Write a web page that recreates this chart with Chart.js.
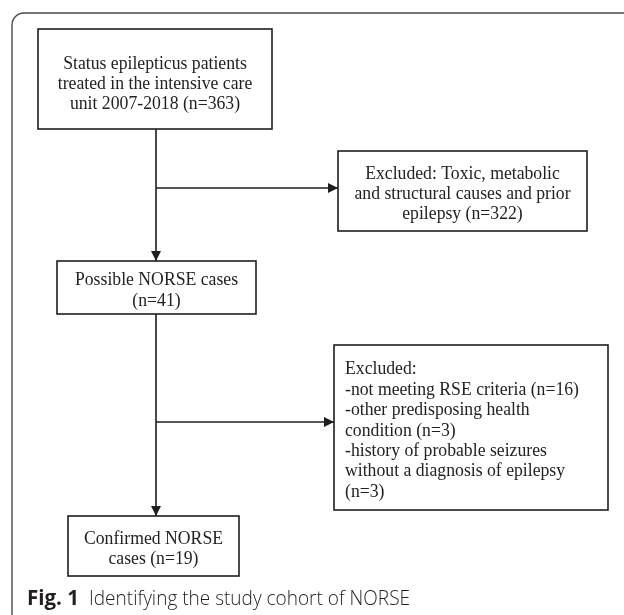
<!DOCTYPE html>
<html>
<head>
<meta charset="utf-8">
<script src="https://cdn.jsdelivr.net/npm/chart.js@4.4.1/dist/chart.umd.min.js"></script>
<style>
  html, body { margin: 0; padding: 0; background: #fff; }
  #wrap { width: 624px; height: 615px; }
</style>
</head>
<body>
<div id="wrap"><canvas id="flow" width="624" height="615"></canvas></div>
<script>
/* ── Flow data ── */
const STEP_TEXT = [
  ['Status epilepticus patients', 'treated in the intensive care', 'unit 2007-2018 (n=363)'],
  ['Possible NORSE cases', '(n=41)'],
  ['Confirmed NORSE', 'cases (n=19)'],
];
const EXCL_TEXT = [
  ['Excluded: Toxic, metabolic', 'and structural causes and prior', 'epilepsy (n=322)'],
  ['Excluded:', '-not meeting RSE criteria (n=16)', '-other predisposing health',
   'condition (n=3)', '-history of probable seizures', 'without a diagnosis of epilepsy', '(n=3)'],
];
const CAPTION_BOLD = 'Fig. 1';
const CAPTION_TEXT = 'Identifying the study cohort of NORSE';

/* ── Layout (chart units = page px) ── */
const STEP_BOX = [   // [x0, y0, x1, y1]
  [38, 29, 272, 129],
  [57, 261, 256, 314],
  [68, 516, 239, 576],
];
const EXCL_BOX = [
  [338, 151, 587, 231],
  [334, 345, 608, 510],
];
const SPINE_X   = 156;
const BRANCH_Y  = [188, 422];
const LINE_GAP  = 20.4;
const TEXT_DROP = 3;
const INK       = '#1e1e1e';
const SERIF     = '"Liberation Serif", "Times New Roman", serif';

/* ── Connector datasets ── */
function seg(x0, y0, x1, y1) {
  return {
    type: 'line',
    data: [{ x: x0, y: y0 }, { x: x1, y: y1 }],
    borderColor: INK,
    borderWidth: 1.6,
    pointRadius: 0,
    fill: false,
    arrow: true,
  };
}

const connectors = [];
for (let i = 0; i < STEP_BOX.length - 1; i++) {
  connectors.push(seg(SPINE_X, STEP_BOX[i][3], SPINE_X, STEP_BOX[i + 1][1]));
  connectors.push(seg(SPINE_X, BRANCH_Y[i], EXCL_BOX[i][0], BRANCH_Y[i]));
}

/* ── Plugin: boxes, text, arrowheads, frame, caption ── */
const flowPlugin = {
  id: 'flow',
  afterDatasetsDraw(chart) {
    const { ctx, scales: { x, y } } = chart;
    const px = v => x.getPixelForValue(v);
    const py = v => y.getPixelForValue(v);

    ctx.save();

    // outer frame (open at right/bottom)
    const fx = 12, fy = 13, r = 12;
    ctx.strokeStyle = '#4a4a4a';
    ctx.lineWidth = 1.4;
    ctx.beginPath();
    ctx.moveTo(fx, 615);
    ctx.lineTo(fx, fy + r);
    ctx.arcTo(fx, fy, fx + r, fy, r);
    ctx.lineTo(624, fy);
    ctx.stroke();

    // arrowheads
    chart.data.datasets.forEach((ds, i) => {
      if (!ds.arrow) return;
      const pts = chart.getDatasetMeta(i).data;
      const a = pts[0], b = pts[pts.length - 1];
      const ang = Math.atan2(b.y - a.y, b.x - a.x);
      const len = 10, half = 5;
      ctx.fillStyle = INK;
      ctx.beginPath();
      ctx.moveTo(b.x, b.y);
      ctx.lineTo(b.x - len * Math.cos(ang) + half * Math.sin(ang),
                 b.y - len * Math.sin(ang) - half * Math.cos(ang));
      ctx.lineTo(b.x - len * Math.cos(ang) - half * Math.sin(ang),
                 b.y - len * Math.sin(ang) + half * Math.cos(ang));
      ctx.closePath();
      ctx.fill();
    });

    // boxes
    function box(b, lines, align, drop) {
      const x0 = px(b[0]), x1 = px(b[2]), y0 = py(b[1]), y1 = py(b[3]);
      ctx.fillStyle = '#fff';
      ctx.fillRect(x0, y0, x1 - x0, y1 - y0);
      ctx.strokeStyle = INK;
      ctx.lineWidth = 1.6;
      ctx.strokeRect(x0, y0, x1 - x0, y1 - y0);
      ctx.fillStyle = '#222';
      ctx.font = '17.7px ' + SERIF;
      ctx.textBaseline = 'middle';
      ctx.textAlign = align;
      const cy = (y0 + y1) / 2 + drop;
      const top = cy - (lines.length - 1) * LINE_GAP / 2;
      const tx = align === 'center' ? (x0 + x1) / 2 : x0 + 11;
      lines.forEach((t, k) => {
        ctx.save();
        ctx.translate(tx, top + k * LINE_GAP);
        ctx.scale(1, 1.08);
        ctx.fillText(t, 0, 0);
        ctx.restore();
      });
    }
    STEP_BOX.forEach((b, i) => box(b, STEP_TEXT[i], 'center', TEXT_DROP + (i === 0 ? 2 : 0)));
    box(EXCL_BOX[0], EXCL_TEXT[0], 'center', TEXT_DROP);
    box(EXCL_BOX[1], EXCL_TEXT[1], 'left', TEXT_DROP);

    // caption
    ctx.textAlign = 'left';
    ctx.textBaseline = 'alphabetic';
    ctx.fillStyle = '#231f20';
    const capY = 605;
    ctx.font = 'bold 20.5px "Open Sans", "Noto Sans", sans-serif';
    ctx.fillText(CAPTION_BOLD, 27, capY);
    ctx.font = '300 20.5px "Open Sans", "Noto Sans", sans-serif';
    const w = ctx.measureText(CAPTION_TEXT).width;
    ctx.save();
    ctx.translate(89, capY);
    ctx.scale(321 / w, 1);
    ctx.fillText(CAPTION_TEXT, 0, 0);
    ctx.restore();

    ctx.restore();
  },
};

/* ── Chart ── */
new Chart(document.getElementById('flow'), {
  type: 'scatter',
  data: { datasets: connectors },
  options: {
    responsive: false,
    animation: false,
    events: [],
    layout: { padding: 0 },
    plugins: { legend: { display: false }, tooltip: { enabled: false } },
    scales: {
      x: { type: 'linear', min: 0, max: 624, display: false },
      y: { type: 'linear', min: 0, max: 615, reverse: true, display: false },
    },
  },
  plugins: [flowPlugin],
});
</script>
</body>
</html>
